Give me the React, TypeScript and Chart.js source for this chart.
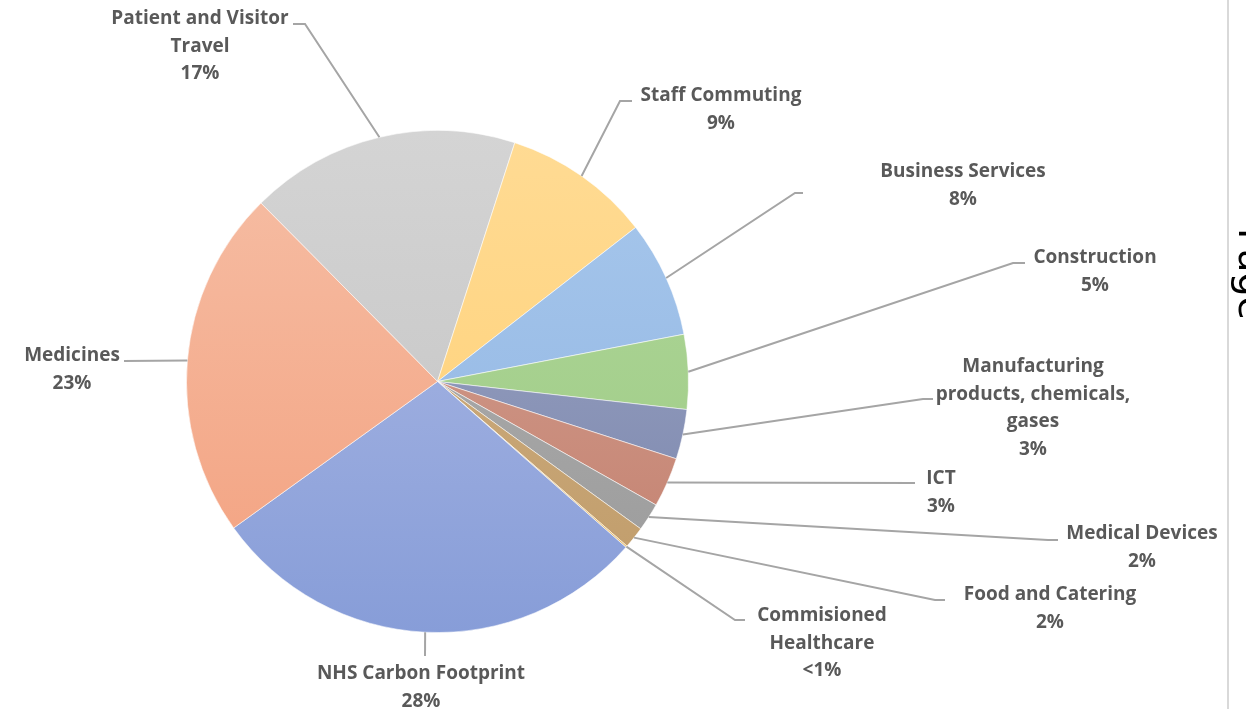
import React, { useEffect, useRef } from "react";
import { Chart, registerables } from "chart.js";

Chart.register(...registerables);

// ---- data ----
const categories: string[][] = [
  ["Patient and Visitor", "Travel"],
  ["Staff Commuting"],
  ["Business Services"],
  ["Construction"],
  ["Manufacturing", "products, chemicals,", "gases"],
  ["ICT"],
  ["Medical Devices"],
  ["Food and Catering"],
  ["Commisioned", "Healthcare"],
  ["NHS Carbon Footprint"],
  ["Medicines"],
];
const values: number[] = [17.4, 9.5, 7.5, 4.8, 3.2, 3.2, 1.8, 1.4, 0.1, 28.6, 22.5];
const percentLabels: string[] = ["17%", "9%", "8%", "5%", "3%", "3%", "2%", "2%", "<1%", "28%", "23%"];

// ---- styles ----
const topColors = [
  "#d4d4d4", "#ffdb94", "#a8c8ec", "#b0d79a", "#a1a9c6", "#d6a597",
  "#b2b2b2", "#d3b386", "#f6d28a", "#b0bce6", "#f6bfa6",
];
const bottomColors = [
  "#c2c2c2", "#ffcf72", "#8eb3e2", "#9cca83", "#7783ab", "#c27e6c",
  "#9a9a9a", "#bf9b69", "#e8b860", "#879dd8", "#f3a07e",
];

// label layout: text centre x, first line centre y, elbow point, end of horizontal
const labelLayout = [
  { tx: 200, ty: 19, ex: 305, ey: 24, hx: 293 },
  { tx: 721, ty: 96, ex: 620, ey: 101, hx: 632 },
  { tx: 963, ty: 172, ex: 795, ey: 193, hx: 803 },
  { tx: 1095, ty: 258, ex: 1013, ey: 263, hx: 1025 },
  { tx: 1033, ty: 367, ex: 923, ey: 399, hx: 933 },
  { tx: 941, ty: 479, ex: 915, ey: 483, hx: 915 },
  { tx: 1142, ty: 534, ex: 1048, ey: 540, hx: 1058 },
  { tx: 1050, ty: 595, ex: 935, ey: 600, hx: 945 },
  { tx: 822, ty: 616, ex: 735, ey: 620, hx: 745 },
  { tx: 421, ty: 674, ex: 425, ey: 656, hx: 425 },
  { tx: 72, ty: 356, ex: 124, ey: 361, hx: 124 },
];

const LABEL_FONT = "bold 19px 'Open Sans'";
const LABEL_COLOR = "#595959";
const LINE_COLOR = "#a5a5a5";
const LINE_H = 27.5;

const labelPlugin = {
  id: "leaderLabels",
  afterDraw(chart: any) {
    const ctx = chart.ctx;
    const meta = chart.getDatasetMeta(0);
    ctx.save();
    // leader lines
    ctx.strokeStyle = LINE_COLOR;
    ctx.lineWidth = 2;
    meta.data.forEach((arc: any, i: number) => {
      const L = labelLayout[i];
      const mid = (arc.startAngle + arc.endAngle) / 2;
      const ax = arc.x + Math.cos(mid) * arc.outerRadius;
      const ay = arc.y + Math.sin(mid) * arc.outerRadius;
      ctx.beginPath();
      ctx.moveTo(ax, ay);
      ctx.lineTo(L.ex, L.ey);
      ctx.lineTo(L.hx, L.ey);
      ctx.stroke();
    });
    // text
    ctx.font = LABEL_FONT;
    ctx.fillStyle = LABEL_COLOR;
    ctx.textAlign = "center";
    ctx.textBaseline = "middle";
    categories.forEach((lines, i) => {
      const L = labelLayout[i];
      const all = [...lines, percentLabels[i]];
      all.forEach((t, k) => ctx.fillText(t, L.tx, L.ty + k * LINE_H));
    });
    // page edge decoration on the right
    ctx.strokeStyle = "#d9d9d9";
    ctx.lineWidth = 2;
    ctx.beginPath();
    ctx.moveTo(1228, 0);
    ctx.lineTo(1228, 709);
    ctx.stroke();
    ctx.translate(1239, 228);
    ctx.rotate(Math.PI / 2);
    ctx.font = "38px 'DejaVu Sans'";
    ctx.fillStyle = "#000";
    ctx.textAlign = "left";
    ctx.textBaseline = "alphabetic";
    ctx.fillText("Page", 0, 0);
    ctx.restore();
  },
};

export default function App() {
  const ref = useRef<HTMLCanvasElement | null>(null);
  useEffect(() => {
    if (!ref.current) return;
    const bg = (c: any) => {
      const chart = c.chart;
      const area = chart.chartArea;
      const i = c.dataIndex;
      if (!area || i === undefined) return topColors[i ?? 0];
      const g = chart.ctx.createLinearGradient(0, area.top, 0, area.bottom);
      g.addColorStop(0, topColors[i]);
      g.addColorStop(1, bottomColors[i]);
      return g;
    };
    const chart = new Chart(ref.current, {
      type: "pie",
      data: {
        labels: categories.map((l) => l.join(" ")),
        datasets: [
          {
            data: values,
            backgroundColor: bg,
            borderColor: "rgba(255,255,255,0.55)",
            borderWidth: 1,
          },
        ],
      },
      options: {
        responsive: true,
        maintainAspectRatio: false,
        animation: false,
        rotation: -44.7,
        layout: { padding: { left: 186, right: 557, top: 130, bottom: 76 } },
        plugins: {
          legend: { display: false },
          tooltip: { enabled: false },
        },
      },
      plugins: [labelPlugin],
    });
    return () => chart.destroy();
  }, []);
  return (
    <div style={{ position: "fixed", left: 0, top: 0, width: 1246, height: 709, background: "#fff" }}>
      <canvas ref={ref} />
    </div>
  );
}
